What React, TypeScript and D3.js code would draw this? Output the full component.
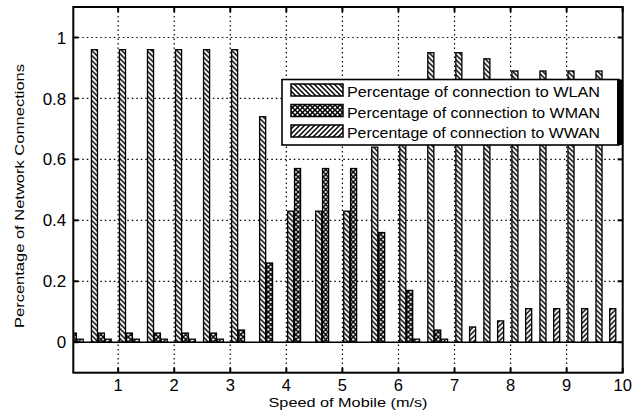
import React, { useEffect, useRef } from "react";
import * as d3 from "d3";

// group positions (speed of mobile, m/s)
const speeds = [0.2, 0.7, 1.2, 1.7, 2.2, 2.7, 3.2, 3.7, 4.2, 4.7, 5.2, 5.7, 6.2, 6.7, 7.2, 7.7, 8.2, 8.7, 9.2, 9.7];

const wlan = [0.96, 0.96, 0.96, 0.96, 0.96, 0.96, 0.96, 0.74, 0.43, 0.43, 0.43, 0.64, 0.83, 0.95, 0.95, 0.93, 0.89, 0.89, 0.89, 0.89];
const wman = [0.03, 0.03, 0.03, 0.03, 0.03, 0.03, 0.04, 0.26, 0.57, 0.57, 0.57, 0.36, 0.17, 0.04, 0, 0, 0, 0, 0, 0];
const wwan = [0.01, 0.01, 0.01, 0.01, 0.01, 0.01, 0, 0, 0, 0, 0, 0, 0.01, 0.01, 0.05, 0.07, 0.11, 0.11, 0.11, 0.11];

const seriesNames = ["WLAN", "WMAN", "WWAN"];
const legendLabels = [
  "Percentage of connection to WLAN",
  "Percentage of connection to WMAN",
  "Percentage of connection to WWAN",
];

const xTicks = [1, 2, 3, 4, 5, 6, 7, 8, 9, 10];
const yTicks = [0, 0.2, 0.4, 0.6, 0.8, 1];
const yTickLabels = ["0", "0.2", "0.4", "0.6", "0.8", "1"];

const FONT = "'Liberation Sans', Arial, Helvetica, sans-serif";

const App: React.FC = () => {
  const svgRef = useRef<SVGSVGElement | null>(null);

  useEffect(() => {
    if (!svgRef.current) return;
    const svg = d3.select(svgRef.current);
    svg.selectAll("*").remove();

    const width = 644;
    const height = 419;
    const margin = { top: 7, right: 21.3, bottom: 46.3, left: 73.3 };
    const innerWidth = width - margin.left - margin.right;
    const innerHeight = height - margin.top - margin.bottom;

    svg.attr("width", width).attr("height", height);

    const x = d3.scaleLinear().domain([0.2, 10]).range([0, innerWidth]);
    const y = d3.scaleLinear().domain([-0.1, 1.1]).range([innerHeight, 0]);
    const x1 = d3.scaleBand<string>().domain(seriesNames).range([-9.9, 9.9]).paddingInner(0.12);

    const defs = svg.append("defs");
    defs.append("clipPath").attr("id", "plotClip")
      .append("rect").attr("width", innerWidth).attr("height", innerHeight);

    // hatch patterns
    const hatch = (id: string, dirs: string[], size: number) => {
      const p = defs.append("pattern")
        .attr("id", id)
        .attr("patternUnits", "userSpaceOnUse")
        .attr("width", size)
        .attr("height", size);
      p.append("rect").attr("width", size).attr("height", size).attr("fill", "#fff");
      dirs.forEach(d => {
        const path = d === "back"
          ? `M-1,-1L${size + 1},${size + 1}M-1,${size - 1}L1,${size + 1}M${size - 1},-1L${size + 1},1`
          : `M-1,${size + 1}L${size + 1},-1M-1,1L1,-1M${size - 1},${size + 1}L${size + 1},${size - 1}`;
        p.append("path").attr("d", path).attr("stroke", "#000").attr("stroke-width", 1.5).attr("fill", "none");
      });
    };
    hatch("pWLAN", ["back"], 5);
    hatch("pWMAN", ["back", "fwd"], 5);
    hatch("pWWAN", ["fwd"], 5);

    const g = svg.append("g").attr("transform", `translate(${margin.left},${margin.top})`);

    // dotted grid
    const grid = g.append("g").attr("stroke", "#000").attr("stroke-width", 1.2).attr("stroke-dasharray", "1.5,3");
    grid.selectAll("line.gx").data(xTicks.slice(0, -1)).enter().append("line")
      .attr("x1", d => x(d)).attr("x2", d => x(d)).attr("y1", 0).attr("y2", innerHeight);
    grid.selectAll("line.gy").data(yTicks.slice(1)).enter().append("line")
      .attr("x1", 0).attr("x2", innerWidth).attr("y1", d => y(d)).attr("y2", d => y(d));

    // bars
    const values: Record<string, number[]> = { WLAN: wlan, WMAN: wman, WWAN: wwan };
    const barsG = g.append("g").attr("clip-path", "url(#plotClip)");
    seriesNames.forEach(s => {
      barsG.selectAll(`rect.b${s}`)
        .data(speeds.map((sp, i) => ({ sp, v: values[s][i] })).filter(d => d.v > 0))
        .enter()
        .append("rect")
        .attr("x", d => x(d.sp) + x1(s)!)
        .attr("y", d => y(d.v))
        .attr("width", x1.bandwidth())
        .attr("height", d => y(0) - y(d.v))
        .attr("fill", `url(#p${s})`)
        .attr("stroke", "#000")
        .attr("stroke-width", 1.3);
    });

    // baseline
    g.append("line").attr("x1", 0).attr("x2", innerWidth).attr("y1", y(0)).attr("y2", y(0))
      .attr("stroke", "#000").attr("stroke-width", 1.6);

    // axis box
    g.append("rect").attr("width", innerWidth).attr("height", innerHeight)
      .attr("fill", "none").attr("stroke", "#000").attr("stroke-width", 2);

    // ticks (inward, all four sides)
    const ticks = g.append("g").attr("stroke", "#000").attr("stroke-width", 2);
    xTicks.forEach(t => {
      ticks.append("line").attr("x1", x(t)).attr("x2", x(t)).attr("y1", innerHeight).attr("y2", innerHeight - 5);
      ticks.append("line").attr("x1", x(t)).attr("x2", x(t)).attr("y1", 0).attr("y2", 5);
    });
    yTicks.forEach(t => {
      ticks.append("line").attr("x1", 0).attr("x2", 5).attr("y1", y(t)).attr("y2", y(t));
      ticks.append("line").attr("x1", innerWidth).attr("x2", innerWidth - 5).attr("y1", y(t)).attr("y2", y(t));
    });

    // tick labels
    g.selectAll("text.xl").data(xTicks).enter().append("text")
      .attr("x", d => x(d)).attr("y", innerHeight + 18.5)
      .attr("text-anchor", "middle")
      .attr("font-family", FONT).attr("font-size", 16.5)
      .text(d => String(d));
    g.selectAll("text.yl").data(yTicks).enter().append("text")
      .attr("x", -7).attr("y", d => y(d)).attr("dy", "0.36em")
      .attr("text-anchor", "end")
      .attr("font-family", FONT).attr("font-size", 17)
      .text((d, i) => yTickLabels[i]);

    // axis titles
    svg.append("text")
      .attr("x", margin.left + innerWidth / 2).attr("y", 406.5)
      .attr("text-anchor", "middle")
      .attr("font-family", FONT).attr("font-size", 12.5)
      .attr("textLength", 159).attr("lengthAdjust", "spacingAndGlyphs")
      .text("Speed of Mobile (m/s)");
    svg.append("text")
      .attr("transform", `translate(24,${196}) rotate(-90)`)
      .attr("text-anchor", "middle")
      .attr("font-family", FONT).attr("font-size", 13)
      .attr("textLength", 264).attr("lengthAdjust", "spacingAndGlyphs")
      .text("Percentage of Network Connections");

    // legend
    const leg = svg.append("g");
    leg.append("rect").attr("x", 282).attr("y", 79.5).attr("width", 337).attr("height", 65.5)
      .attr("fill", "#fff").attr("stroke", "#000").attr("stroke-width", 1.6);
    leg.append("rect").attr("x", 617).attr("y", 79.5).attr("width", 5).attr("height", 65.5).attr("fill", "#000");
    const rowY = [84, 104.5, 125];
    seriesNames.forEach((s, i) => {
      leg.append("rect").attr("x", 291).attr("y", rowY[i]).attr("width", 52).attr("height", 12)
        .attr("fill", `url(#p${s})`).attr("stroke", "#000").attr("stroke-width", 1.5);
      leg.append("text").attr("x", 347).attr("y", rowY[i] + 13)
        .attr("font-family", FONT).attr("font-size", 14)
        .attr("textLength", 253).attr("lengthAdjust", "spacingAndGlyphs")
        .text(legendLabels[i]);
    });
  }, []);

  return (
    <svg ref={svgRef} style={{ position: "absolute", left: 0, top: 0, background: "#fff" }}></svg>
  );
};

export default App;
